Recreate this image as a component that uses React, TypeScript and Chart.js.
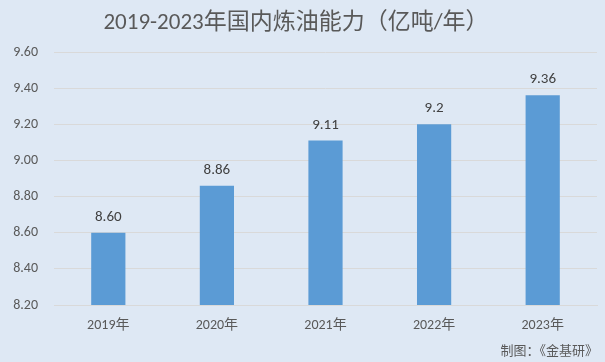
import React, { useEffect, useRef } from "react";
import { Chart, registerables } from "chart.js";

Chart.register(...registerables);

const categories = ["2019年", "2020年", "2021年", "2022年", "2023年"];
const values = [8.6, 8.86, 9.11, 9.2, 9.36];
const valueLabels = ["8.60", "8.86", "9.11", "9.2", "9.36"];
const titleText = "2019-2023年国内炼油能力（亿吨/年）";
const footerText = "制图：《金基研》";

const FONT = "Calibri, Carlito, Lato, 'Noto Sans CJK SC', sans-serif";

export default function App() {
  const ref = useRef<HTMLCanvasElement | null>(null);
  useEffect(() => {
    if (!ref.current) return;
    const overlay = {
      id: "overlay",
      afterDatasetsDraw(chart: any) {
        const ctx = chart.ctx;
        ctx.save();
        const meta = chart.getDatasetMeta(0);
        ctx.fillStyle = "#404040";
        ctx.font = `15px ${FONT}`;
        ctx.textAlign = "center";
        ctx.textBaseline = "alphabetic";
        meta.data.forEach((bar: any, i: number) => {
          ctx.fillText(valueLabels[i], bar.x, bar.y - 12);
        });
        ctx.fillStyle = "#595959";
        ctx.font = `23px ${FONT}`;
        ctx.textBaseline = "middle";
        ctx.fillText(titleText, 296, 23);
        ctx.font = `13px ${FONT}`;
        ctx.textAlign = "right";
        ctx.fillText(footerText, 598, 352);
        ctx.restore();
      },
    };
    const chart = new Chart(ref.current, {
      type: "bar",
      data: {
        labels: categories,
        datasets: [
          {
            data: values,
            backgroundColor: "#5b9bd5",
            categoryPercentage: 1,
            barPercentage: 0.315,
          },
        ],
      },
      options: {
        animation: false,
        responsive: false,
        maintainAspectRatio: false,
        layout: { padding: { top: 52, right: 8, bottom: 0, left: 0 } },
        plugins: { legend: { display: false }, tooltip: { enabled: false }, title: { display: false } },
        scales: {
          x: {
            grid: { display: false, drawTicks: false },
            border: { display: true, color: "#d9d9d9" },
            ticks: { color: "#595959", font: { size: 14, family: FONT }, padding: 12 },
            afterFit(scale: any) {
              scale.height = 57;
            },
          },
          y: {
            min: 8.2,
            max: 9.6,
            grid: { color: "#d9d9d9", drawTicks: false },
            border: { display: false },
            ticks: {
              stepSize: 0.2,
              color: "#595959",
              font: { size: 14, family: FONT },
              padding: 16,
              callback: (v: any) => Number(v).toFixed(2),
            },
            afterFit(scale: any) {
              scale.width = 54;
            },
          },
        },
      },
      plugins: [overlay],
    });
    return () => chart.destroy();
  }, []);
  return (
    <div style={{ position: "absolute", left: 0, top: 0, width: 605, height: 362, background: "#dee8f4" }}>
      <canvas ref={ref} width={605} height={362} style={{ width: 605, height: 362, display: "block" }} />
    </div>
  );
}
